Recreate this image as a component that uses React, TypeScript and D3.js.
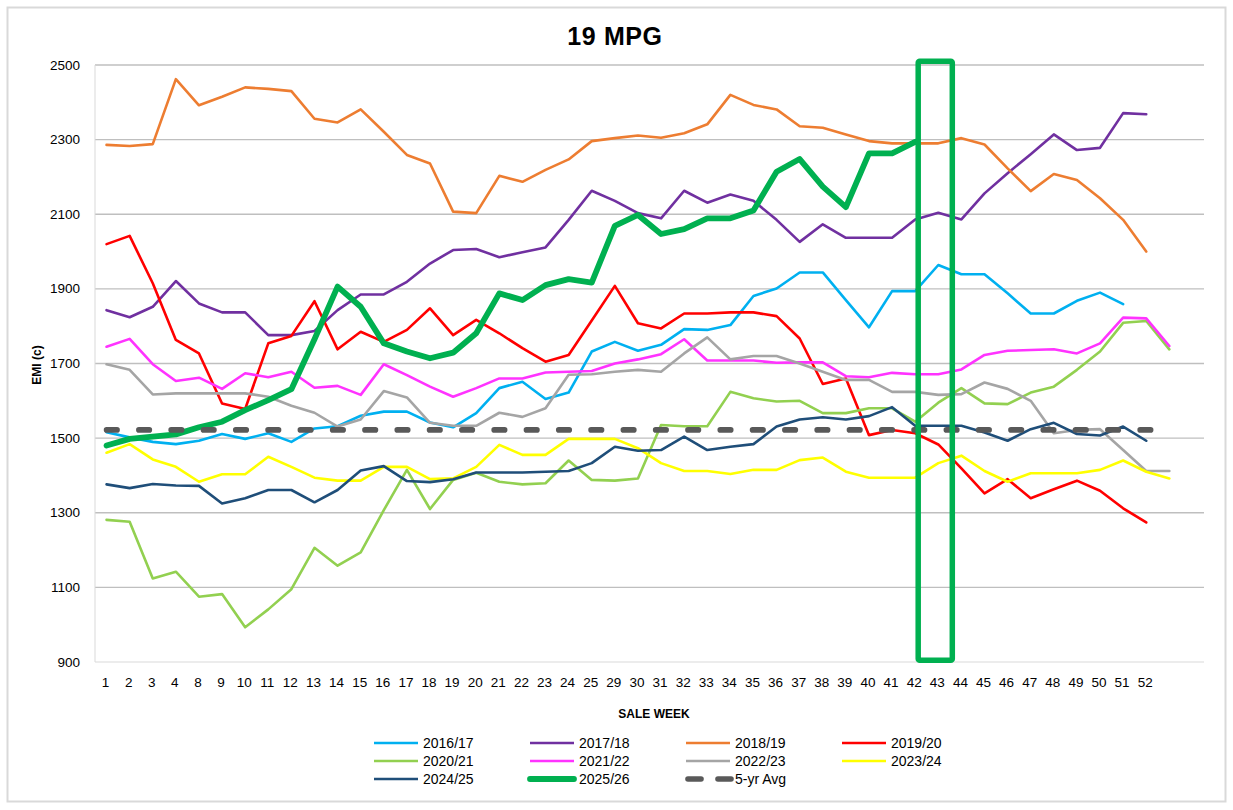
import React from "react";
import * as d3 from "d3";

const weeks = ["1","2","3","4","8","9","10","11","12","13","14","15","16","17","18","19","20","21","22","23","24","25","29","30","31","32","33","34","35","36","37","38","39","40","41","42","43","44","45","46","47","48","49","50","51","52","",""];

const s1617 = [1516,1502,1490,1484, 1493,1511,1498,1513,1490,1526,1532,1560,1571,1571,1542,1529,1567,1634,1651,1605,1622,1732, 1758,1734,1750,1792,1790,1803,1881,1901,1944,1944,1870,1797,1894,1894,1964,1939,1939,1888,1834,1834,1868,1890,1859,null];
const s1718 = [1843,1824,1852,1921, 1861,1837,1837,1776,1776,1787,1843,1885,1885,1919,1968,2004,2007,1985,1998,2011,2085,2163, 2136,2103,2089,2163,2131,2153,2136,2085,2026,2073,2037,2037,2037,2086,2104,2086,2156,2210,2261,2314,2272,2278,2371,2368];
const s1819 = [2286,2283,2288,2462, 2392,2415,2440,2436,2430,2356,2346,2381,2321,2259,2236,2107,2103,2203,2187,2219,2247,2296, 2304,2311,2305,2317,2341,2420,2393,2381,2336,2332,2314,2296,2290,2290,2290,2304,2287,2223,2162,2208,2192,2143,2085,2000];
const s1920 = [2020,2042,1915,1763, 1727,1593,1578,1754,1774,1867,1738,1785,1758,1790,1848,1776,1817,1781,1741,1705,1723,1815, 1908,1808,1794,1834,1834,1837,1837,1827,1767,1645,1660,1508,1522,1513,1483,1419,1352,1390,1339,1363,1386,1359,1312,1274];
const s2021 = [1281,1276,1124,1142, 1075,1082,993,1041,1095,1206,1158,1194,1307,1415,1310,1388,1407,1383,1376,1379,1440,1388, 1386,1392,1535,1532,1532,1624,1607,1598,1600,1567,1567,1580,1580,1544,1595,1634,1593,1591,1622,1638,1683,1732,1809,1814, 1738];
const s2122 = [1745,1766,1698,1653, 1662,1632,1674,1663,1678,1635,1640,1616,1698,1669,1638,1611,1634,1660,1660,1676,1678,1680, 1700,1711,1725,1765,1708,1708,1708,1702,1703,1703,1666,1663,1675,1671,1671,1684,1723,1734,1736,1738,1727,1754,1823,1821, 1747];
const s2223 = [1698,1683,1617,1620, 1620,1620,1620,1611,1587,1568,1531,1550,1626,1609,1541,1533,1533,1568,1557,1580,1670,1671, 1678,1683,1678,1727,1770,1711,1720,1720,1700,1678,1656,1656,1624,1624,1616,1618,1649,1632,1600,1513,1522,1524,1468,1412, 1412];
const s2324 = [1461,1484,1443,1423, 1383,1403,1403,1450,1423,1394,1386,1386,1423,1423,1390,1392,1423,1482,1455,1455,1498,1498, 1498,1473,1433,1412,1412,1404,1415,1415,1441,1448,1410,1394,1394,1394,1433,1453,1412,1383,1406,1406,1406,1415,1440,1410, 1392];
const s2425 = [1376,1366,1377,1373, 1372,1325,1339,1361,1361,1328,1361,1413,1425,1385,1382,1390,1408,1408,1408,1410,1412,1433, 1477,1466,1468,1504,1468,1477,1484,1531,1550,1556,1550,1559,1583,1533,1533,1533,1515,1493,1524,1541,1511,1507,1531,1493];
const s2526 = [1480,1498,1504,1510, 1529,1544,1575,1602,1631,1765,1906,1852,1754,1732,1714,1729,1781,1888,1870,1910,1926,1917, 2069,2098,2047,2060,2089,2089,2110,2214,2248,2174,2119,2263,2263,2294];
const avg5 = [1522,1522,1522,1522,1522,1522,1522,1522,1522,1522,1522,1522,1522,1522,1522,1522,1522,1522,1522,1522,1522,1522,1522,1522,1522,1522,1522,1522,1522,1522,1522,1522,1522,1522,1522,1522,1522,1522,1522,1522,1522,1522,1522,1522,1522,1522,1522];

const yTicks = [900,1100,1300,1500,1700,1900,2100,2300,2500];
const highlightWeeks = ["42","43"];
const highlightRange = [905, 2510];

type Series = { name: string; values: (number | null)[]; color: string; width: number; dash?: string };

const series: Series[] = [
  { name: "2016/17", values: s1617, color: "#00B0F0", width: 2.6 },
  { name: "2017/18", values: s1718, color: "#7030A0", width: 2.6 },
  { name: "2018/19", values: s1819, color: "#ED7D31", width: 2.6 },
  { name: "2019/20", values: s1920, color: "#FF0000", width: 2.6 },
  { name: "2020/21", values: s2021, color: "#92D050", width: 2.6 },
  { name: "2021/22", values: s2122, color: "#FF33FF", width: 2.6 },
  { name: "2022/23", values: s2223, color: "#A5A5A5", width: 2.6 },
  { name: "2023/24", values: s2324, color: "#FFFF00", width: 2.6 },
  { name: "2024/25", values: s2425, color: "#1F4E79", width: 2.6 },
  { name: "2025/26", values: s2526, color: "#00B050", width: 5.8 },
  { name: "5-yr Avg", values: avg5, color: "#595959", width: 5.6, dash: "10.5 21.8" },
];

const W = 1233, H = 810;
const M = { left: 95, right: 1204, top: 65, bottom: 662 };
const FONT = "'Liberation Sans', Arial, sans-serif";

export default function App() {
  const x = d3.scaleBand<number>().domain(d3.range(weeks.length)).range([M.left, M.right]).padding(0);
  const cx = (i: number) => (x(i) as number) + x.bandwidth() / 2;
  const y = d3.scaleLinear().domain([900, 2500]).range([M.bottom, M.top]);

  const line = (vals: (number | null)[]) =>
    d3.line<number | null>()
      .defined((d) => d != null)
      .x((_, i) => cx(i))
      .y((d) => y(d as number))(vals) || "";

  const hi0 = weeks.indexOf(highlightWeeks[0]);
  const hi1 = weeks.indexOf(highlightWeeks[1]);
  const rectX = cx(hi0) + 3;
  const rectW = cx(hi1) - cx(hi0) + 11;

  const legCols = [374, 530, 686, 842];
  const legRows = [743, 761, 779];

  return (
    <svg width={W} height={H} style={{ position: "absolute", left: 0, top: 0, display: "block", background: "#fff" }} fontFamily={FONT}>
      <rect x={0} y={0} width={W} height={H} fill="#fff" />
      <rect x={7.5} y={7.5} width={1218} height={794} fill="#fff" stroke="#D9D9D9" strokeWidth={2} />
      <text x={615} y={45} textAnchor="middle" fontSize={25} fontWeight="bold" letterSpacing={0.6} fill="#000">19 MPG</text>

      {/* gridlines */}
      {yTicks.map((t) => (
        <line key={t} x1={M.left} x2={M.right} y1={y(t)} y2={y(t)} stroke={t === 900 ? "#D9D9D9" : "#BFBFBF"} strokeWidth={t === 900 ? 1 : 1.3} />
      ))}
      <line x1={M.left} x2={M.left} y1={M.top} y2={M.bottom} stroke="#D9D9D9" strokeWidth={1} />

      {/* y tick labels */}
      {yTicks.map((t) => (
        <text key={t} x={80} y={y(t) + 4.5} textAnchor="end" fontSize={13.5} fill="#000">{t}</text>
      ))}
      {/* x tick labels */}
      {weeks.map((w, i) => (
        <text key={i} x={cx(i) - 1} y={687} textAnchor="middle" fontSize={13.5} fill="#000">{w}</text>
      ))}

      <text x={654} y={718} textAnchor="middle" fontSize={12} fontWeight="bold" fill="#000">SALE WEEK</text>
      <text transform={`translate(41,365) rotate(-90)`} textAnchor="middle" fontSize={12} fontWeight="bold" fill="#000">EMI (c)</text>

      {/* series */}
      {series.map((s) => (
        <path key={s.name} d={line(s.values)} fill="none" stroke={s.color} strokeWidth={s.width}
          strokeLinejoin="round" strokeLinecap="round" strokeDasharray={s.dash} />
      ))}

      {/* highlight rectangle */}
      <rect x={rectX} y={y(highlightRange[1])} width={rectW} height={y(highlightRange[0]) - y(highlightRange[1])}
        fill="none" stroke="#00B050" strokeWidth={5.5} strokeLinejoin="round" rx={1.5} />

      {/* legend */}
      {series.map((s, i) => {
        const lx = legCols[i % 4];
        const ly = legRows[Math.floor(i / 4)];
        return (
          <g key={s.name}>
            {s.dash ? (
              <>
                <line x1={lx + 2} x2={lx + 15} y1={ly} y2={ly} stroke={s.color} strokeWidth={s.width} strokeLinecap="round" />
                <line x1={lx + 32} x2={lx + 45} y1={ly} y2={ly} stroke={s.color} strokeWidth={s.width} strokeLinecap="round" />
              </>
            ) : (
              <line x1={lx} x2={lx + 44} y1={ly} y2={ly} stroke={s.color} strokeWidth={s.width} strokeLinecap={s.width > 4 ? "round" : "butt"} />
            )}
            <text x={lx + 49} y={ly + 5} fontSize={14} fill="#000">{s.name}</text>
          </g>
        );
      })}
    </svg>
  );
}
